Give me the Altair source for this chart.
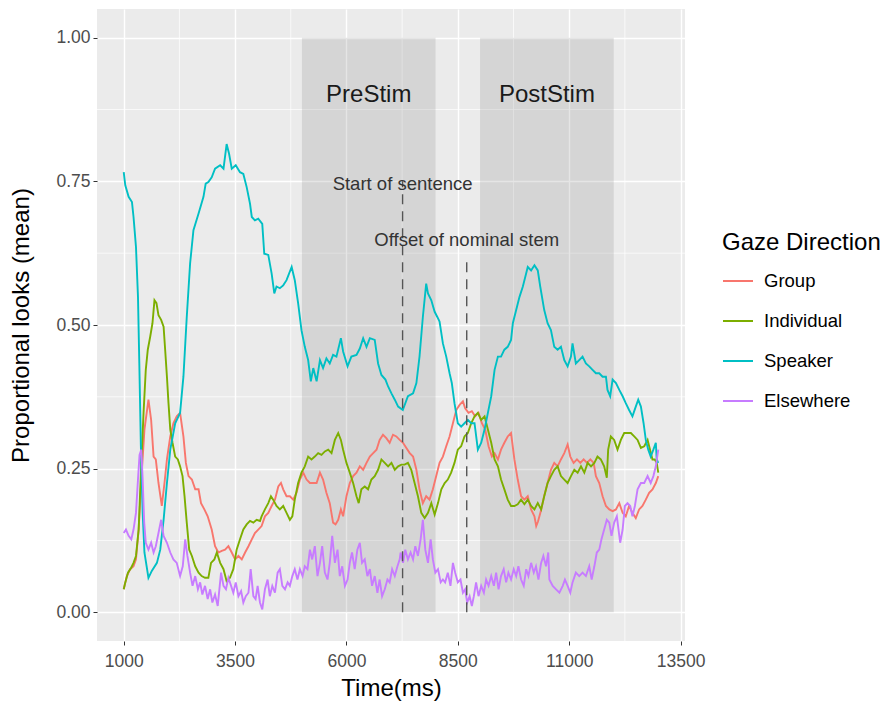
import altair as alt
import pandas as pd

FONT = "Liberation Sans"

series_names = ["Group", "Individual", "Speaker", "Elsewhere"]
series_colors = ["#F8766D", "#7CAE00", "#00BFC4", "#C77CFF"]

speaker_t = [1000, 1035, 1110, 1185, 1220, 1275, 1320, 1350, 1385, 1425, 1465, 1555, 1630, 1745, 1820, 1895,
             1970, 2045, 2155, 2265, 2340, 2415, 2490, 2565, 2680, 2790, 2840, 2900, 2975, 3050, 3165, 3240,
             3310, 3365, 3425, 3515, 3610, 3685, 3760, 3835, 3875, 3945, 4020, 4110, 4155, 4245, 4320, 4380,
             4430, 4505, 4580, 4655, 4770, 4840, 4915, 4990, 5065, 5140, 5200, 5255, 5330, 5405, 5475, 5550,
             5625, 5700, 5775, 5875, 5925, 6025, 6110, 6225, 6300, 6375, 6450, 6525, 6635, 6710, 6785, 6875,
             6935, 7010, 7085, 7160, 7265, 7380, 7495, 7570, 7640, 7715, 7790, 7830, 7905, 7980, 8040, 8090,
             8165, 8240, 8315, 8365, 8425, 8500, 8575, 8650, 8725, 8800, 8875, 8950, 9025, 9100, 9175, 9250,
             9325, 9400, 9470, 9545, 9620, 9695, 9735, 9810, 9885, 9960, 10035, 10070, 10145, 10220, 10295,
             10350, 10440, 10515, 10590, 10665, 10740, 10815, 10890, 10965, 11040, 11075, 11150, 11225, 11300,
             11375, 11450, 11525, 11600, 11675, 11750, 11825, 11860, 11920, 11975, 12050, 12125, 12200, 12270,
             12345, 12420, 12495, 12550, 12610, 12670, 12720, 12775, 12830, 12890, 12945, 12965, 13000]
speaker_v = [0.766, 0.743, 0.723, 0.714, 0.688, 0.636, 0.549, 0.433, 0.289, 0.173, 0.104, 0.060, 0.072, 0.086,
             0.109, 0.161, 0.225, 0.283, 0.329, 0.347, 0.410, 0.514, 0.607, 0.665, 0.694, 0.723, 0.746, 0.749,
             0.757, 0.772, 0.778, 0.772, 0.815, 0.798, 0.772, 0.778, 0.766, 0.763, 0.740, 0.711, 0.688, 0.682,
             0.685, 0.676, 0.624, 0.622, 0.590, 0.555, 0.567, 0.564, 0.569, 0.578, 0.601, 0.578, 0.538, 0.491,
             0.462, 0.439, 0.402, 0.425, 0.402, 0.439, 0.425, 0.442, 0.433, 0.448, 0.445, 0.477, 0.454, 0.428,
             0.445, 0.448, 0.459, 0.477, 0.462, 0.477, 0.474, 0.433, 0.413, 0.405, 0.393, 0.381, 0.370, 0.358,
             0.352, 0.376, 0.381, 0.399, 0.445, 0.514, 0.572, 0.555, 0.543, 0.523, 0.514, 0.506, 0.468, 0.445,
             0.416, 0.399, 0.364, 0.329, 0.323, 0.329, 0.335, 0.329, 0.329, 0.283, 0.295, 0.318, 0.347, 0.376,
             0.422, 0.445, 0.445, 0.457, 0.462, 0.474, 0.503, 0.526, 0.549, 0.567, 0.590, 0.601, 0.595, 0.604,
             0.595, 0.567, 0.526, 0.503, 0.491, 0.462, 0.457, 0.462, 0.439, 0.428, 0.445, 0.468, 0.433, 0.439,
             0.445, 0.433, 0.428, 0.422, 0.416, 0.416, 0.410, 0.410, 0.387, 0.376, 0.405, 0.399, 0.387, 0.376,
             0.364, 0.352, 0.341, 0.358, 0.370, 0.358, 0.329, 0.300, 0.283, 0.271, 0.283, 0.295, 0.266, 0.260]

group_t = [1000, 1070, 1145, 1220, 1275, 1335, 1395, 1465, 1555, 1615, 1670, 1720, 1780, 1855, 1915, 1970,
           2045, 2115, 2190, 2265, 2340, 2395, 2455, 2530, 2605, 2680, 2735, 2810, 2885, 2975, 3050, 3125,
           3200, 3275, 3350, 3425, 3500, 3575, 3650, 3725, 3800, 3875, 3945, 4020, 4095, 4170, 4245, 4320,
           4395, 4470, 4530, 4580, 4655, 4730, 4805, 4880, 4955, 5030, 5105, 5180, 5255, 5330, 5405, 5475,
           5550, 5625, 5700, 5755, 5815, 5875, 5925, 6000, 6075, 6150, 6225, 6300, 6375, 6450, 6525, 6600,
           6675, 6745, 6820, 6895, 6970, 7045, 7120, 7195, 7270, 7345, 7420, 7495, 7570, 7640, 7715, 7790,
           7865, 7940, 8015, 8090, 8165, 8240, 8315, 8390, 8465, 8540, 8615, 8665, 8740, 8815, 8890, 8965,
           9040, 9115, 9190, 9265, 9325, 9400, 9470, 9545, 9620, 9695, 9770, 9845, 9920, 9995, 10070, 10145,
           10220, 10260, 10300, 10370, 10440, 10515, 10590, 10665, 10740, 10815, 10890, 10965, 11025, 11100,
           11175, 11250, 11325, 11400, 11475, 11550, 11600, 11675, 11750, 11825, 11900, 11975, 12050, 12125,
           12200, 12270, 12345, 12420, 12495, 12570, 12645, 12720, 12795, 12870, 12945, 13000]
group_v = [0.040, 0.063, 0.075, 0.080, 0.092, 0.144, 0.231, 0.318, 0.370, 0.335, 0.271, 0.266, 0.225, 0.185,
           0.225, 0.266, 0.306, 0.329, 0.341, 0.347, 0.306, 0.260, 0.237, 0.231, 0.214, 0.214, 0.190, 0.179,
           0.167, 0.144, 0.115, 0.104, 0.107, 0.109, 0.115, 0.104, 0.092, 0.098, 0.092, 0.104, 0.115, 0.127,
           0.138, 0.144, 0.150, 0.167, 0.173, 0.185, 0.196, 0.219, 0.225, 0.214, 0.202, 0.202, 0.196, 0.208,
           0.231, 0.243, 0.231, 0.225, 0.225, 0.225, 0.243, 0.231, 0.208, 0.190, 0.156, 0.153, 0.161, 0.179,
           0.167, 0.202, 0.225, 0.237, 0.243, 0.254, 0.248, 0.260, 0.271, 0.277, 0.283, 0.300, 0.309, 0.303,
           0.295, 0.309, 0.306, 0.300, 0.295, 0.286, 0.277, 0.271, 0.248, 0.214, 0.190, 0.202, 0.196, 0.214,
           0.237, 0.260, 0.271, 0.289, 0.306, 0.329, 0.352, 0.361, 0.367, 0.355, 0.347, 0.350, 0.341, 0.347,
           0.329, 0.318, 0.289, 0.271, 0.277, 0.266, 0.283, 0.295, 0.306, 0.312, 0.266, 0.231, 0.202, 0.196,
           0.202, 0.179, 0.167, 0.150, 0.158, 0.178, 0.203, 0.225, 0.248, 0.260, 0.254, 0.266, 0.277, 0.292,
           0.271, 0.260, 0.266, 0.260, 0.266, 0.260, 0.266, 0.260, 0.237, 0.225, 0.202, 0.185, 0.179, 0.176,
           0.179, 0.190, 0.173, 0.167, 0.185, 0.173, 0.164, 0.179, 0.185, 0.196, 0.208, 0.214, 0.225, 0.237]

individual_t = [1000, 1035, 1095, 1170, 1220, 1275, 1335, 1395, 1445, 1495, 1540, 1595, 1645, 1690, 1735, 1780,
                1840, 1895, 1930, 1970, 2005, 2045, 2095, 2155, 2215, 2265, 2320, 2365, 2415, 2470, 2530, 2605,
                2680, 2750, 2825, 2900, 2960, 3035, 3090, 3165, 3240, 3310, 3385, 3460, 3535, 3610, 3685, 3760,
                3835, 3910, 3985, 4060, 4095, 4170, 4245, 4305, 4355, 4430, 4505, 4580, 4655, 4730, 4785, 4840,
                4915, 4990, 5065, 5140, 5215, 5290, 5365, 5440, 5515, 5590, 5665, 5740, 5815, 5875, 5925, 6000,
                6075, 6150, 6225, 6275, 6335, 6410, 6485, 6560, 6635, 6710, 6785, 6860, 6935, 7010, 7085, 7160,
                7235, 7305, 7380, 7455, 7530, 7605, 7680, 7755, 7830, 7905, 7980, 8055, 8130, 8205, 8275, 8350,
                8425, 8500, 8575, 8650, 8725, 8800, 8875, 8950, 9025, 9100, 9175, 9250, 9325, 9400, 9470, 9545,
                9620, 9695, 9770, 9845, 9920, 9995, 10070, 10145, 10220, 10295, 10370, 10440, 10515, 10590,
                10665, 10740, 10815, 10890, 10965, 11040, 11115, 11190, 11265, 11340, 11415, 11490, 11565, 11635,
                11710, 11785, 11845, 11875, 11935, 12010, 12085, 12160, 12235, 12310, 12385, 12460, 12535, 12610,
                12685, 12760, 12815, 12870, 12920, 12965, 13000]
individual_v = [0.040, 0.052, 0.069, 0.078, 0.086, 0.098, 0.144, 0.260, 0.347, 0.422, 0.457, 0.480, 0.503,
                0.543, 0.538, 0.517, 0.509, 0.497, 0.457, 0.410, 0.364, 0.318, 0.295, 0.271, 0.266, 0.254,
                0.237, 0.202, 0.156, 0.109, 0.098, 0.080, 0.069, 0.063, 0.060, 0.060, 0.086, 0.092, 0.104,
                0.086, 0.075, 0.054, 0.060, 0.075, 0.109, 0.127, 0.144, 0.153, 0.159, 0.156, 0.161, 0.159,
                0.167, 0.179, 0.190, 0.202, 0.196, 0.185, 0.179, 0.185, 0.173, 0.161, 0.167, 0.196, 0.225,
                0.243, 0.254, 0.271, 0.266, 0.271, 0.277, 0.274, 0.280, 0.283, 0.277, 0.300, 0.312, 0.300,
                0.283, 0.260, 0.243, 0.225, 0.202, 0.190, 0.214, 0.219, 0.214, 0.231, 0.237, 0.248, 0.266,
                0.260, 0.254, 0.260, 0.248, 0.254, 0.257, 0.257, 0.260, 0.248, 0.225, 0.202, 0.173, 0.164,
                0.173, 0.190, 0.170, 0.190, 0.214, 0.225, 0.231, 0.243, 0.260, 0.283, 0.289, 0.306, 0.312,
                0.329, 0.341, 0.347, 0.335, 0.341, 0.318, 0.295, 0.266, 0.254, 0.231, 0.214, 0.196, 0.185,
                0.185, 0.188, 0.196, 0.188, 0.196, 0.185, 0.179, 0.190, 0.179, 0.202, 0.225, 0.237, 0.248,
                0.254, 0.237, 0.231, 0.225, 0.237, 0.248, 0.243, 0.254, 0.243, 0.260, 0.254, 0.260, 0.271,
                0.266, 0.254, 0.234, 0.283, 0.306, 0.300, 0.283, 0.300, 0.312, 0.312, 0.312, 0.306, 0.300,
                0.286, 0.289, 0.300, 0.283, 0.266, 0.266, 0.260, 0.243]

elsewhere_t = [1000, 1050, 1110, 1170, 1220, 1275, 1320, 1355, 1395, 1425, 1460, 1495, 1555, 1615, 1670, 1720,
               1780, 1840, 1895, 1970, 2045, 2115, 2190, 2265, 2325, 2380, 2430, 2490, 2545, 2605, 2665, 2715,
               2765, 2825, 2885, 2940, 2990, 3050, 3110, 3185, 3240, 3295, 3350, 3410, 3460, 3515, 3575, 3635,
               3685, 3740, 3800, 3850, 3910, 3960, 4006, 4058, 4110, 4170, 4230, 4280, 4335, 4395, 4455, 4505,
               4560, 4620, 4680, 4730, 4785, 4840, 4900, 4955, 5015, 5065, 5125, 5180, 5230, 5290, 5350, 5405,
               5455, 5515, 5575, 5625, 5680, 5740, 5800, 5850, 5905, 5965, 6025, 6075, 6125, 6185, 6245, 6300,
               6350, 6410, 6470, 6525, 6575, 6635, 6695, 6745, 6800, 6860, 6920, 6970, 7025, 7085, 7145, 7195,
               7215, 7270, 7320, 7380, 7440, 7495, 7545, 7605, 7665, 7715, 7770, 7830, 7890, 7940, 7995, 8055,
               8115, 8165, 8215, 8275, 8335, 8390, 8440, 8500, 8560, 8615, 8665, 8710, 8765, 8815, 8860, 8910,
               8965, 9025, 9085, 9135, 9190, 9250, 9310, 9360, 9415, 9470, 9530, 9585, 9635, 9695, 9755, 9810,
               9860, 9920, 9980, 10035, 10085, 10145, 10205, 10255, 10310, 10370, 10420, 10480, 10530, 10555,
               10630, 10705, 10780, 10855, 10905, 10965, 11025, 11075, 11150, 11225, 11300, 11375, 11450, 11505,
               11565, 11620, 11675, 11725, 11785, 11845, 11900, 11950, 12010, 12070, 12145, 12200, 12250, 12310,
               12370, 12420, 12475, 12535, 12610, 12685, 12760, 12830, 12890, 12945, 13000]
elsewhere_v = [0.138, 0.144, 0.133, 0.127, 0.144, 0.173, 0.231, 0.274, 0.283, 0.231, 0.156, 0.121, 0.109,
               0.121, 0.104, 0.115, 0.138, 0.161, 0.133, 0.121, 0.104, 0.092, 0.086, 0.063, 0.080, 0.127,
               0.098, 0.069, 0.046, 0.063, 0.040, 0.052, 0.031, 0.046, 0.023, 0.040, 0.017, 0.031, 0.011,
               0.069, 0.046, 0.040, 0.060, 0.046, 0.034, 0.052, 0.028, 0.037, 0.017, 0.028, 0.034, 0.075,
               0.028, 0.023, 0.046, 0.017, 0.005, 0.040, 0.057, 0.028, 0.046, 0.034, 0.069, 0.075, 0.046,
               0.040, 0.052, 0.046, 0.063, 0.075, 0.057, 0.075, 0.063, 0.080, 0.075, 0.109, 0.092, 0.115,
               0.063, 0.086, 0.115, 0.069, 0.057, 0.086, 0.133, 0.086, 0.109, 0.063, 0.080, 0.046, 0.057,
               0.086, 0.104, 0.075, 0.109, 0.121, 0.086, 0.092, 0.063, 0.075, 0.046, 0.063, 0.034, 0.057,
               0.028, 0.040, 0.057, 0.052, 0.075, 0.063, 0.080, 0.092, 0.104, 0.086, 0.109, 0.092, 0.104,
               0.092, 0.115, 0.098, 0.127, 0.161, 0.109, 0.086, 0.127, 0.092, 0.069, 0.075, 0.052, 0.057,
               0.052, 0.069, 0.046, 0.086, 0.069, 0.052, 0.057, 0.034, 0.040, 0.017, 0.028, 0.011, 0.028,
               0.052, 0.028, 0.046, 0.034, 0.057, 0.046, 0.063, 0.046, 0.069, 0.040, 0.063, 0.075, 0.052,
               0.069, 0.057, 0.075, 0.063, 0.080, 0.057, 0.046, 0.075, 0.063, 0.086, 0.069, 0.080, 0.057,
               0.086, 0.098, 0.080, 0.104, 0.057, 0.046, 0.040, 0.034, 0.046, 0.057, 0.046, 0.034, 0.052,
               0.069, 0.063, 0.069, 0.063, 0.080, 0.057, 0.080, 0.104, 0.109, 0.127, 0.144, 0.161, 0.156,
               0.133, 0.156, 0.167, 0.121, 0.144, 0.185, 0.190, 0.185, 0.167, 0.185, 0.214, 0.225, 0.225,
               0.237, 0.225, 0.237, 0.254, 0.283]

x_ticks = [1000, 3500, 6000, 8500, 11000, 13500]
y_ticks = [0.0, 0.25, 0.50, 0.75, 1.00]
x_minor = [2250, 4750, 7250, 9750, 12250]
y_minor = [0.125, 0.375, 0.625, 0.875]

period_names = ["PreStim", "PostStim"]
period_start = [5000, 9000]
period_end = [8000, 12000]
period_label_x = [6500, 10500]
period_label_y = [0.9, 0.9]

marker_names = ["Start of sentence", "Offset of nominal stem"]
marker_t = [7260, 8700]
marker_top = [0.75, 0.62]
marker_label_y = [0.746, 0.648]

rows = []
for name, ts, vs in [("Group", group_t, group_v), ("Individual", individual_t, individual_v),
                     ("Speaker", speaker_t, speaker_v), ("Elsewhere", elsewhere_t, elsewhere_v)]:
    for t, v in zip(ts, vs):
        rows.append({"t": t, "v": v, "series": name})
lines_df = pd.DataFrame(rows)

periods_df = pd.DataFrame({"name": period_names, "start": period_start, "end": period_end,
                           "lx": period_label_x, "ly": period_label_y, "y0": [0, 0], "y1": [1, 1]})
markers_df = pd.DataFrame({"name": marker_names, "t": marker_t, "top": marker_top,
                           "ly": marker_label_y, "y0": [0, 0]})
xminor_df = pd.DataFrame({"t": x_minor})
yminor_df = pd.DataFrame({"v": y_minor})

XT = "Time(ms)"
YT = "Proportional looks (mean)"
xs = alt.Scale(domain=[400, 13600], nice=False, zero=False)
ys = alt.Scale(domain=[-0.05, 1.05], nice=False, zero=False)
xa = alt.Axis(values=x_ticks, title=XT, format="d")
ya = alt.Axis(values=y_ticks, title=YT, format=".2f")

minor_x = alt.Chart(xminor_df).mark_rule(color="white", strokeWidth=0.7).encode(
    x=alt.X("t:Q", scale=xs, axis=xa, title=XT))
minor_y = alt.Chart(yminor_df).mark_rule(color="white", strokeWidth=0.7).encode(
    y=alt.Y("v:Q", scale=ys, axis=ya, title=YT))

rects = alt.Chart(periods_df).mark_rect(color="#7f7f7f", opacity=0.2).encode(
    x=alt.X("start:Q", scale=xs, axis=xa, title=XT), x2="end:Q",
    y=alt.Y("y0:Q", scale=ys, axis=ya, title=YT), y2="y1:Q")

lines = alt.Chart(lines_df).mark_line(strokeWidth=1.9).encode(
    x=alt.X("t:Q", scale=xs, axis=xa, title=XT),
    y=alt.Y("v:Q", scale=ys, axis=ya, title=YT),
    color=alt.Color("series:N", scale=alt.Scale(domain=series_names, range=series_colors),
                    sort=series_names,
                    legend=alt.Legend(title="Gaze Direction", orient="none", legendX=625, legendY=222,
                                      symbolType="stroke", symbolSize=900, symbolStrokeWidth=2,
                                      labelFontSize=18.5, titleFontSize=24, titleFontWeight="normal",
                                      titleFont=FONT, labelFont=FONT, titleColor="#000000",
                                      labelColor="#000000", titlePadding=10, rowPadding=14,
                                      labelOffset=10)),
    order=alt.Order("t:Q"),
    detail="series:N")

dashes = alt.Chart(markers_df).mark_rule(color="#555555", strokeWidth=1.4, strokeDash=[10, 7]).encode(
    x=alt.X("t:Q", scale=xs, axis=xa, title=XT),
    y=alt.Y("y0:Q", scale=ys, axis=ya, title=YT), y2="top:Q")

marker_text = alt.Chart(markers_df).mark_text(font=FONT, fontSize=18.5, color="#333333",
                                              align="center", baseline="middle").encode(
    x=alt.X("t:Q", scale=xs, axis=xa, title=XT),
    y=alt.Y("ly:Q", scale=ys, axis=ya, title=YT), text="name:N")

period_text = alt.Chart(periods_df).mark_text(font=FONT, fontSize=24, color="#1a1a1a",
                                              align="center", baseline="middle").encode(
    x=alt.X("lx:Q", scale=xs, axis=xa, title=XT),
    y=alt.Y("ly:Q", scale=ys, axis=ya, title=YT), text="name:N")

chart = alt.layer(minor_x, minor_y, rects, lines, dashes, marker_text, period_text).properties(
    width=588, height=632,
    autosize=alt.AutoSizeParams(type="none"),
    padding={"left": 97, "top": 9, "right": 203, "bottom": 66},
    background="white",
).configure_view(fill="#EBEBEB", stroke=None).configure_axis(
    grid=True, gridColor="white", gridWidth=1.4, domain=False,
    tickColor="#333333", tickSize=4, tickWidth=1,
    labelFont=FONT, labelFontSize=17.5, labelColor="#4d4d4d",
    titleFont=FONT, titleFontSize=24, titleFontWeight="normal", titleColor="#000000",
).configure_axisX(labelPadding=7, titlePadding=7).configure_axisY(labelPadding=3, titlePadding=22)

chart.save("out.html", embed_options={"renderer": "svg", "actions": False})
